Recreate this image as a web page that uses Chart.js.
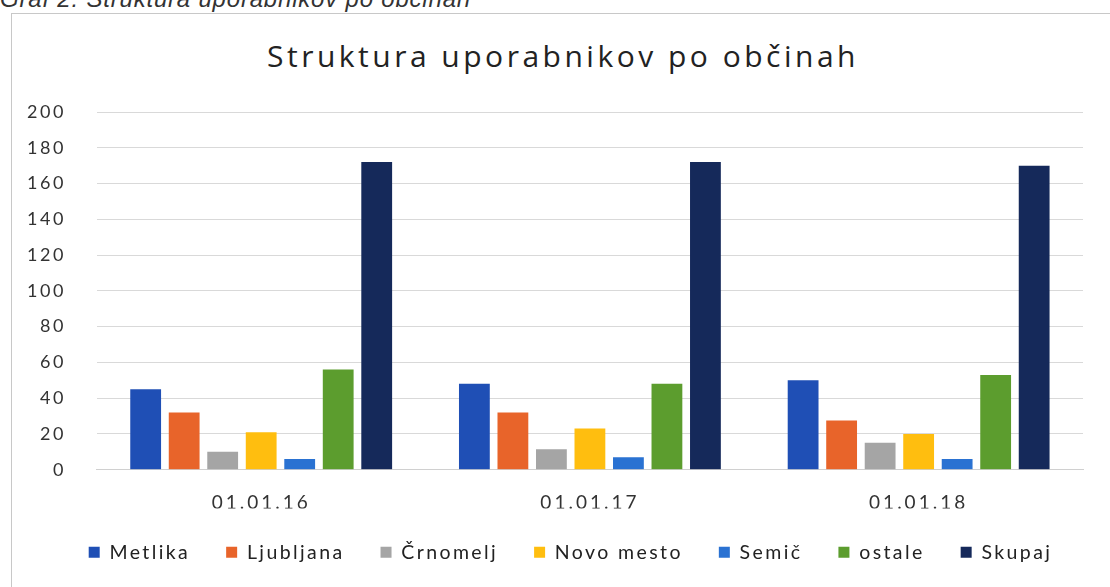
<!DOCTYPE html>
<html lang="sl">
<head>
  <meta charset="UTF-8" />
  <title>Struktura uporabnikov po občinah</title>
  <style>
    body {
      margin: 0;
      background: #fff;
      width: 1110px;
      height: 587px;
      overflow: hidden;
      position: relative;
      font-family: 'Lato', sans-serif;
    }
    .caption {
      position: absolute;
      left: 0;
      top: -15px;
      font-family: 'Liberation Sans', Arial, sans-serif;
      font-style: italic;
      font-size: 24px;
      letter-spacing: 0.8px;
      color: #333;
    }
    .frame {
      position: absolute;
      left: 11px;
      top: 13px;
      width: 1110px;
      height: 590px;
      border: 1px solid #c8c8c8;
    }
    .naslov {
      position: absolute;
      left: 0;
      width: 1126px;
      top: 35px;
      text-align: center;
      font-family: 'Open Sans', sans-serif;
      font-size: 30px;
      line-height: 41px;
      letter-spacing: 3.5px;
      color: #222;
    }
    #wrap {
      position: absolute;
      left: -15px;
      top: 14px;
      width: 1125px;
      height: 573px;
    }
  </style>
</head>
<body>
  <div class="caption">Graf 2: Struktura uporabnikov po občinah</div>
  <div class="frame"></div>
  <div class="naslov">Struktura uporabnikov po občinah</div>
  <div id="wrap"><canvas id="chart"></canvas></div>

  <script src="https://cdn.jsdelivr.net/npm/chart.js"></script>
  <script>
    // podatki
    const datumi = ['01.01.16', '01.01.17', '01.01.18'];
    const metlika = [45, 48, 50];
    const ljubljana = [32, 32, 27.5];
    const crnomelj = [10, 11.5, 15];
    const novoMesto = [21, 23, 20];
    const semic = [6, 7, 6];
    const ostale = [56, 48, 53];
    const skupaj = [172, 172, 170];

    const serije = [
      { label: 'Metlika', data: metlika, color: '#1f4fb5' },
      { label: 'Ljubljana', data: ljubljana, color: '#e8642a' },
      { label: 'Črnomelj', data: crnomelj, color: '#a5a5a5' },
      { label: 'Novo mesto', data: novoMesto, color: '#ffbe0f' },
      { label: 'Semič', data: semic, color: '#2a72d2' },
      { label: 'ostale', data: ostale, color: '#5c9d2e' },
      { label: 'Skupaj', data: skupaj, color: '#15295a' }
    ];

    const canvas = document.getElementById('chart');
    const ctx = canvas.getContext('2d');

    // razmik med črkami glede na velikost pisave (Excel pisava je širša)
    const razmiki = { '18': '2.5px', '19': '3px', '19.5': '2.4px' };
    function nastaviRazmik(c) {
      const m = /(\d+(?:\.\d+)?)px/.exec(c.font);
      c.letterSpacing = (m && razmiki[String(+m[1])]) || '0px';
    }
    const proto = CanvasRenderingContext2D.prototype;
    ctx.fillText = function (t, x, y, w) {
      nastaviRazmik(this);
      return w === undefined ? proto.fillText.call(this, t, x, y) : proto.fillText.call(this, t, x, y, w);
    };
    ctx.measureText = function (t) {
      nastaviRazmik(this);
      return proto.measureText.call(this, t);
    };

    // legenda je v originalu malo bolj desno in višje
    const zamikLegende = {
      id: 'zamikLegende',
      afterLayout(chart) {
        chart.legend.left += 31;
        chart.legend.right += 31;
        chart.legend.top -= 2;
        chart.legend.bottom -= 2;
      }
    };

    new Chart(ctx, {
      type: 'bar',
      data: {
        labels: datumi,
        datasets: serije.map(s => ({
          label: s.label,
          data: s.data,
          backgroundColor: s.color,
          borderWidth: 0,
          categoryPercentage: 0.82,
          barPercentage: 0.8
        }))
      },
      plugins: [zamikLegende],
      options: {
        responsive: true,
        maintainAspectRatio: false,
        animation: false,
        layout: { padding: { left: 11, right: 27, top: 98, bottom: 13 } },
        plugins: {
          title: { display: false },
          legend: {
            position: 'bottom',
            labels: {
              color: '#222',
              font: { family: 'Lato', size: 19.5 },
              boxWidth: 11,
              boxHeight: 11,
              padding: 36
            }
          },
          tooltip: { enabled: false }
        },
        scales: {
          x: {
            grid: { display: false },
            border: { color: '#d0d0d0' },
            ticks: { color: '#333', font: { family: 'Lato', size: 19 }, padding: 14 },
            afterFit(scale) { scale.height -= 20; }
          },
          y: {
            min: 0,
            max: 200,
            ticks: { stepSize: 20, color: '#333', font: { family: 'Lato', size: 18 }, padding: 31 },
            grid: { color: '#d9d9d9', drawTicks: false },
            border: { display: false }
          }
        }
      }
    });
  </script>
</body>
</html>
